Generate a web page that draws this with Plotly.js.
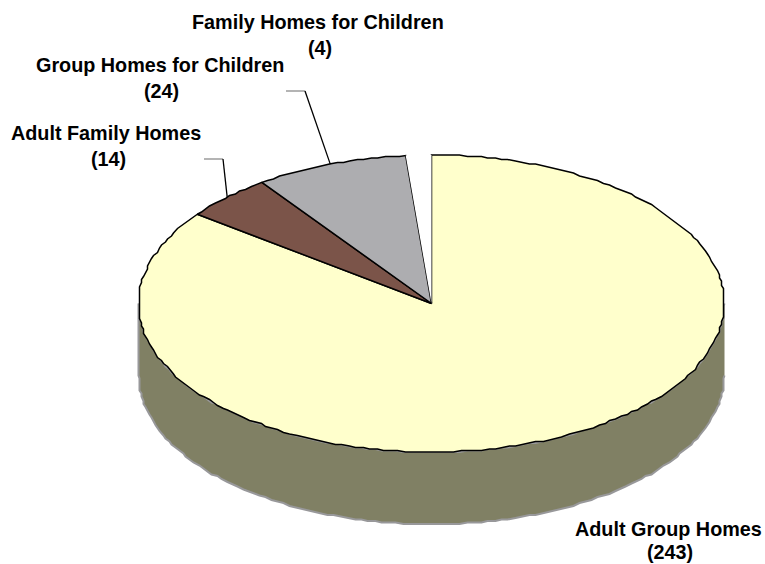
<!DOCTYPE html>
<html>
<head>
<meta charset="utf-8">
<script src="https://cdn.plot.ly/plotly-3.0.1.min.js"></script>
<style>html,body{margin:0;padding:0;background:#fff}#chart{width:765px;height:564px}</style>
</head>
<body>
<div id="chart"></div>
<script>
// Licensed homes by type, drawn as a tilted pie with a raised side wall
const categories = ['Adult Group Homes', 'Adult Family Homes', 'Group Homes for Children', 'Family Homes for Children'];
const homeCounts = [243, 14, 24, 4];
const sliceColors = ['#FFFFCC', '#7B5449', '#ADADB0', '#FFFFFF'];

const W = 765, H = 564;
const CX = 431.5, CY = 303.5, RX = 293, RY = 148.5, DEPTH = 72;

// The axes are scaled so one unit is the pie radius on each axis
const xRange = [-CX / RX, (W - CX) / RX];
const yRange = [-(H - CY) / RY, CY / RY];
const wallDrop = DEPTH / RY;

// Outline vertices sit on a fine grid, giving the stepped metafile edge
const GRID_X = 2 / RX, GRID_Y = 1.5 / RY;
const snap = (v, g) => Math.round(v / g) * g;
const TAU = Math.PI * 2;
const total = homeCounts.reduce((a, b) => a + b, 0);

function arc(from, to, drop) {
  const n = Math.max(2, Math.ceil(Math.abs(to - from) / (TAU / 260)));
  const xs = [], ys = [];
  for (let i = 0; i <= n; i++) {
    const a = from + (to - from) * i / n;
    const onEnd = i === 0 || i === n;
    const x = Math.sin(a), y = Math.cos(a);
    xs.push(onEnd ? x : snap(x, GRID_X));
    ys.push((onEnd ? y : snap(y, GRID_Y)) - drop);
  }
  return {xs, ys};
}

const traces = [];

// Side wall: lower half of the rim, swept down by the pie depth
const rimTop = arc(Math.PI / 2, 3 * Math.PI / 2, 0);
const rimLow = arc(3 * Math.PI / 2, Math.PI / 2, wallDrop);
traces.push({
  x: rimTop.xs.concat(rimLow.xs), y: rimTop.ys.concat(rimLow.ys),
  mode: 'lines', fill: 'toself', fillcolor: '#808064',
  line: {color: '#98989A', width: 2}, hoverinfo: 'skip'
});

// Slices run clockwise from twelve o'clock
let start = 0;
const midAngles = [];
homeCounts.forEach((value, i) => {
  const end = start + value / total * TAU;
  midAngles.push((start + end) / 2);
  const rim = arc(start, end, 0);
  traces.push({
    name: categories[i],
    x: [0].concat(rim.xs, [0]), y: [0].concat(rim.ys, [0]),
    mode: 'lines', fill: 'toself', fillcolor: sliceColors[i],
    line: {color: i === 3 ? 'rgba(0,0,0,0)' : '#000000', width: 1.5},
    hoverinfo: 'name'
  });
  start = end;
});

// Leader lines: short grey stub, then a black run to the slice's mid-angle
const toX = px => (px - CX) / RX;
const toY = py => (CY - py) / RY;
const leaders = [
  {slice: 1, stub: [204, 159], elbow: [223, 159]},
  {slice: 2, stub: [286, 91], elbow: [305, 91]}
];
leaders.forEach(l => {
  traces.push({
    x: [toX(l.stub[0]), toX(l.elbow[0])], y: [toY(l.stub[1]), toY(l.elbow[1])],
    mode: 'lines', line: {color: '#8C8C8C', width: 1.3}, hoverinfo: 'skip'
  });
  const m = midAngles[l.slice];
  traces.push({
    x: [toX(l.elbow[0]), Math.sin(m)], y: [toY(l.elbow[1]), Math.cos(m)],
    mode: 'lines', line: {color: '#000000', width: 1.3}, hoverinfo: 'skip'
  });
});

// Label placement: category line and count line, as page pixels
const labelPlaces = [
  {name: [668.5, 529], count: [670, 551.5]},
  {name: [105.5, 133], count: [108, 159]},
  {name: [159.5, 65], count: [161.5, 91]},
  {name: [318, 22], count: [320, 48]}
];
const labelFont = {family: '"Liberation Sans", Arial, sans-serif', size: 19.8, color: '#000000', weight: 700};
const annotation = (text, p) => ({
  text: '<b>' + text + '</b>', x: p[0] / W, y: 1 - p[1] / H, xref: 'paper', yref: 'paper',
  xanchor: 'center', yanchor: 'middle', showarrow: false, font: labelFont
});
const annotations = [];
categories.forEach((c, i) => {
  annotations.push(annotation(c, labelPlaces[i].name));
  annotations.push(annotation('(' + homeCounts[i] + ')', labelPlaces[i].count));
});

const hiddenAxis = r => ({range: r, visible: false, fixedrange: true, showgrid: false, zeroline: false});
Plotly.newPlot('chart', traces, {
  width: W, height: H,
  margin: {l: 0, r: 0, t: 0, b: 0},
  paper_bgcolor: '#ffffff', plot_bgcolor: '#ffffff',
  showlegend: false,
  xaxis: hiddenAxis(xRange), yaxis: hiddenAxis(yRange),
  annotations
}, {staticPlot: true, displayModeBar: false});
</script>
</body>
</html>
